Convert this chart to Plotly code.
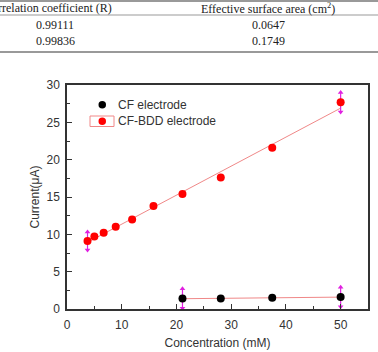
import numpy as np
import plotly.graph_objects as go

# ---- data ----
bdd_conc = [3.75, 5.0, 6.7, 8.9, 11.9, 15.8, 21.1, 28.1, 37.5, 50.0]
bdd_curr = [9.1, 9.7, 10.2, 11.0, 12.0, 13.8, 15.4, 17.6, 21.6, 27.7]
bdd_err = [1.2, 0, 0, 0, 0, 0, 0, 0, 0, 1.3]

cf_conc = [21.1, 28.1, 37.5, 50.0]
cf_curr = [1.4, 1.4, 1.5, 1.6]
cf_err = [1.3, 0, 0, 1.3]

table_header = ["Correlation coefficient (R)", "Effective surface area (cm<sup>2</sup>)"]
table_col1 = ["0.99111", "0.99836"]
table_col2 = ["0.0647", "0.1749"]

W, H = 378, 352
L, R, T, B = 67, 368, 85, 309


def px(x):
    return (x - L) / (R - L)


def py(y):
    return (B - y) / (B - T)


fig = go.Figure()

# fit lines
for xs, ys in [(bdd_conc, bdd_curr), (cf_conc, cf_curr)]:
    k, b = np.polyfit(xs, ys, 1)
    xx = np.array([xs[0], xs[-1]])
    fig.add_trace(go.Scatter(x=xx, y=k * xx + b, mode="lines",
                             line=dict(color="#f08888", width=1),
                             showlegend=False, hoverinfo="skip"))

# error bars (magenta with arrow heads)
for xs, ys, es in [(bdd_conc, bdd_curr, bdd_err), (cf_conc, cf_curr, cf_err)]:
    ex = [x for x, e in zip(xs, es) if e > 0]
    ey = [y for y, e in zip(ys, es) if e > 0]
    ee = [e for e in es if e > 0]
    fig.add_trace(go.Scatter(x=ex, y=ey, mode="markers",
                             marker=dict(size=0.1, color="rgba(0,0,0,0)"),
                             error_y=dict(type="data", array=ee, color="#e020e0",
                                          thickness=1.2, width=0),
                             showlegend=False, hoverinfo="skip"))
    fig.add_trace(go.Scatter(x=ex, y=[y + e for y, e in zip(ey, ee)], mode="markers",
                             marker=dict(symbol="triangle-up", size=5, color="#e020e0"),
                             showlegend=False, hoverinfo="skip"))
    fig.add_trace(go.Scatter(x=ex, y=[y - e for y, e in zip(ey, ee)], mode="markers",
                             marker=dict(symbol="triangle-down", size=5, color="#e020e0"),
                             showlegend=False, hoverinfo="skip"))

fig.add_trace(go.Scatter(x=bdd_conc, y=bdd_curr, mode="markers", name="CF-BDD electrode",
                         marker=dict(size=8, color="#ff0000"), showlegend=False))
fig.add_trace(go.Scatter(x=cf_conc, y=cf_curr, mode="markers", name="CF electrode",
                         marker=dict(size=8, color="#000000"), showlegend=False))

axis_common = dict(showline=True, linecolor="#333", linewidth=1.5, mirror=True,
                   ticks="inside", ticklen=5, tickcolor="#333", showgrid=False,
                   zeroline=False, automargin=False,
                   tickfont=dict(family="Arial", size=12, color="#333"),
                   title_font=dict(family="Arial", size=12, color="#333"))

fig.update_xaxes(range=[0, 55], dtick=10, tick0=0, ticklabelstandoff=4,
                 minor=dict(dtick=5, ticks="inside", ticklen=3, tickcolor="#333"),
                 title_text="Concentration (mM)", title_standoff=7, **axis_common)
fig.update_yaxes(range=[0, 30], dtick=5, tick0=0, ticklabelstandoff=3,
                 minor=dict(dtick=2.5, ticks="inside", ticklen=3, tickcolor="#333"),
                 title_text="Current(μA)", title_standoff=4, **axis_common)

shapes = []
# table rules
for yy, wdt in [(1, 2), (15, 1), (52, 2)]:
    shapes.append(dict(type="line", xref="paper", yref="paper",
                       x0=px(0), x1=px(W), y0=py(yy), y1=py(yy),
                       line=dict(color="#999", width=wdt)))
# legend
shapes.append(dict(type="circle", xref="paper", yref="paper",
                   x0=px(98.5), x1=px(106), y0=py(101), y1=py(108.5),
                   fillcolor="#000", line=dict(color="#000", width=0)))
shapes.append(dict(type="rect", xref="paper", yref="paper",
                   x0=px(90), x1=px(114), y0=py(116), y1=py(126.5),
                   line=dict(color="#f08888", width=1)))
shapes.append(dict(type="circle", xref="paper", yref="paper",
                   x0=px(98.5), x1=px(106), y0=py(117.5), y1=py(125),
                   fillcolor="#ff0000", line=dict(color="#ff0000", width=0)))

annotations = []
legend_names = ["CF electrode", "CF-BDD electrode"]
for name, yy in zip(legend_names, [104.7, 121]):
    annotations.append(dict(xref="paper", yref="paper", x=px(116), y=py(yy),
                            xanchor="left", yanchor="middle", showarrow=False,
                            text=name, font=dict(family="Arial", size=12, color="#333")))

tfont = dict(family="Liberation Serif", size=12, color="#222")
annotations.append(dict(xref="paper", yref="paper", x=px(114), y=py(8),
                        xanchor="right", yanchor="middle", showarrow=False,
                        text=table_header[0], font=tfont))
annotations.append(dict(xref="paper", yref="paper", x=px(268), y=py(8),
                        xanchor="center", yanchor="middle", showarrow=False,
                        text=table_header[1], font=tfont))
for i, yy in enumerate([25, 41.5]):
    annotations.append(dict(xref="paper", yref="paper", x=px(55), y=py(yy),
                            xanchor="center", yanchor="middle", showarrow=False,
                            text=table_col1[i], font=tfont))
    annotations.append(dict(xref="paper", yref="paper", x=px(268), y=py(yy),
                            xanchor="center", yanchor="middle", showarrow=False,
                            text=table_col2[i], font=tfont))

fig.update_layout(width=W, height=H, margin=dict(l=L, r=W - R, t=T, b=H - B),
                  paper_bgcolor="white", plot_bgcolor="white",
                  shapes=shapes, annotations=annotations, showlegend=False)

fig.write_html("out.html")
